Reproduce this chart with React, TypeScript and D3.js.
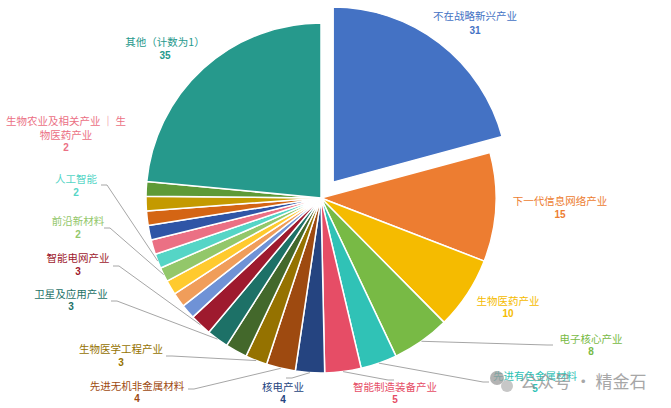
import React from "react";
import * as d3 from "d3";

// ---- data ----
const categories = [
  "不在战略新兴产业",
  "下一代信息网络产业",
  "生物医药产业",
  "电子核心产业",
  "先进有色金属材料",
  "智能制造装备产业",
  "核电产业",
  "先进无机非金属材料",
  "生物医学工程产业",
  "", // unlabeled slice in reference
  "卫星及应用产业",
  "智能电网产业",
  "",
  "",
  "",
  "前沿新材料",
  "人工智能",
  "生物农业及相关产业 ｜ 生物医药产业",
  "",
  "",
  "",
  "",
  "其他（计数为1）",
];
const values = [31, 15, 10, 8, 5, 5, 4, 4, 3, 3, 3, 3, 2, 2, 2, 2, 2, 2, 2, 2, 2, 2, 35];

// ---- styles / layout ----
const colors = [
  "#4472C4", "#ED7D31", "#F5BB00", "#78BA45", "#30C2B6", "#E64D66",
  "#254480", "#9E4A10", "#957200", "#43682B", "#1D7167", "#9E1A2E",
  "#6F92D6", "#F09D5A", "#FFCA2E", "#93C76A", "#55D5C6", "#EB7084",
  "#2F55A6", "#D46514", "#C49A00", "#5E9A37", "#26998C",
];
// label placement: [cx, nameY, valueY] (name may wrap to lines)
const labelLayout: Record<number, { x: number; lines: string[]; ys: number[]; vy: number; anchor?: [number, number] }> = {
  0: { x: 475, lines: ["不在战略新兴产业"], ys: [17], vy: 31 },
  1: { x: 560, lines: ["下一代信息网络产业"], ys: [202], vy: 215 },
  2: { x: 508, lines: ["生物医药产业"], ys: [302], vy: 314 },
  3: { x: 591, lines: ["电子核心产业"], ys: [340], vy: 352, anchor: [553, 345] },
  4: { x: 535, lines: ["先进有色金属材料"], ys: [377], vy: 389, anchor: [489, 382] },
  5: { x: 395, lines: ["智能制造装备产业"], ys: [388], vy: 400, anchor: [394, 380] },
  6: { x: 283, lines: ["核电产业"], ys: [388], vy: 400, anchor: [286, 378] },
  7: { x: 137, lines: ["先进无机非金属材料"], ys: [387], vy: 399, anchor: [188, 389] },
  8: { x: 121, lines: ["生物医学工程产业"], ys: [350], vy: 363, anchor: [166, 356] },
  10: { x: 71, lines: ["卫星及应用产业"], ys: [295], vy: 307, anchor: [111, 301] },
  11: { x: 78, lines: ["智能电网产业"], ys: [259], vy: 272, anchor: [113, 266] },
  15: { x: 78, lines: ["前沿新材料"], ys: [222], vy: 235, anchor: [104, 228] },
  16: { x: 76, lines: ["人工智能"], ys: [180], vy: 193, anchor: [101, 185] },
  17: { x: 66, lines: ["生物农业及相关产业 ｜ 生", "物医药产业"], ys: [122, 136], vy: 148 },
  22: { x: 165, lines: ["其他（计数为1）"], ys: [43], vy: 56 },
};

const W = 671, H = 408;
const CX = 321, CY = 198, R = 175;
const EXPLODE = 20;

export default function App() {
  const pie = d3.pie<number>().sort(null).value((d) => d).startAngle(0).endAngle(2 * Math.PI);
  const arcs = pie(values);
  const arc = d3.arc<d3.PieArcDatum<number>>().innerRadius(0).outerRadius(R);
  const edge = d3.arc<d3.PieArcDatum<number>>().innerRadius(R).outerRadius(R);

  const cjk = "'Noto Sans CJK SC', 'Noto Sans', sans-serif";
  const num = "'Liberation Sans', Arial, sans-serif";

  return (
    <svg width={W} height={H} style={{ position: "absolute", left: 0, top: 0, background: "#fff" }}>
      <g transform={`translate(${CX},${CY})`}>
        {arcs.map((a, i) => {
          const mid = (a.startAngle + a.endAngle) / 2;
          const off = i === 0 ? EXPLODE : 0;
          const dx = Math.sin(mid) * off, dy = -Math.cos(mid) * off;
          return (
            <path key={i} d={arc(a) || ""} fill={colors[i]} stroke="#fff" strokeWidth={1.5}
              strokeLinejoin="round" transform={`translate(${dx},${dy})`} />
          );
        })}
      </g>
      {/* leader lines */}
      {arcs.map((a, i) => {
        const L = labelLayout[i];
        if (!L || !L.anchor || !categories[i]) return null;
        const [px, py] = edge.centroid(a);
        const tx = CX + px, ty = CY + py;
        const [ax, ay] = L.anchor;
        const stub = tx > ax ? 6 : -6;
        return (
          <path key={"l" + i} d={`M${ax},${ay}L${ax + stub},${ay}L${tx},${ty}`} fill="none"
            stroke="#A6A6A6" strokeWidth={1} />
        );
      })}
      {/* labels */}
      {arcs.map((a, i) => {
        const L = labelLayout[i];
        if (!L || !categories[i]) return null;
        return (
          <g key={"t" + i} fill={colors[i]} textAnchor="middle">
            {L.lines.map((ln, j) => (
              <text key={j} x={L.x} y={L.ys[j]} dominantBaseline="middle" fontFamily={cjk} fontSize={10.5}>
                {ln}
              </text>
            ))}
            <text x={L.x} y={L.vy} dominantBaseline="middle" fontFamily={num} fontSize={10} fontWeight="bold">
              {values[i]}
            </text>
          </g>
        );
      })}
      {/* watermark */}
      <g opacity={0.75}>
        <circle cx={497} cy={378} r={7} fill="#9a9a9a" />
        <circle cx={507} cy={386} r={6} fill="#b5b5b5" />
        <text x={520} y={383} dominantBaseline="middle" fontFamily={cjk} fontSize={17} fill="#8a8a8a">
          公众号 · 精金石
        </text>
      </g>
    </svg>
  );
}
